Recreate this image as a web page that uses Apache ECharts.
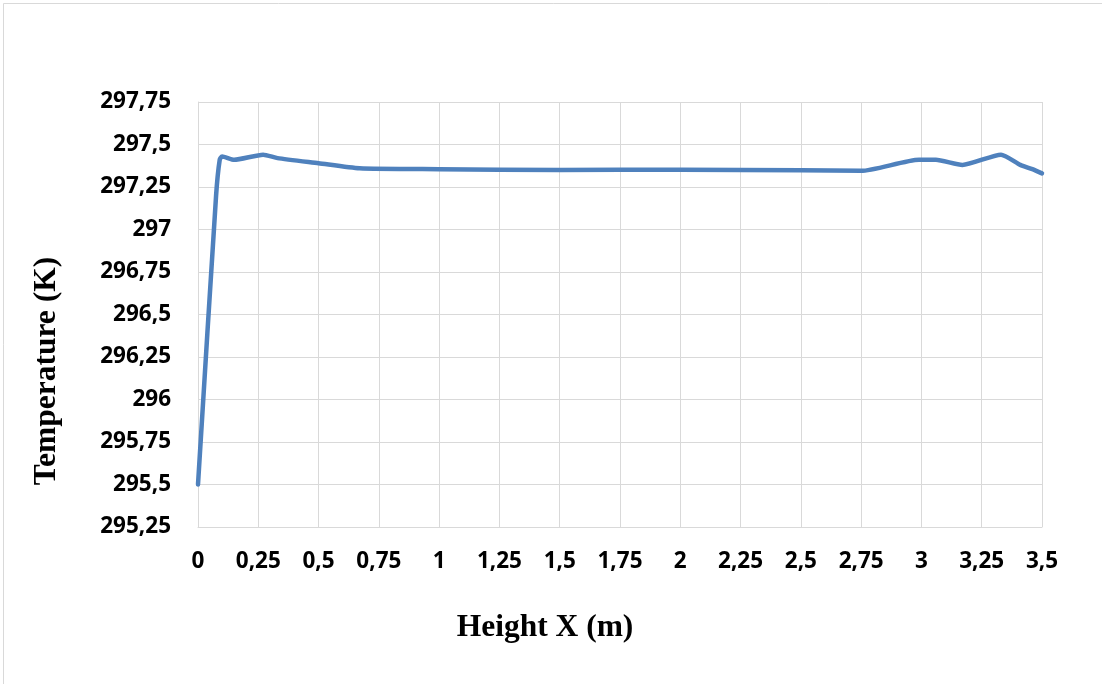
<!DOCTYPE html>
<html>
<head>
<meta charset="utf-8">
<script src="https://cdn.jsdelivr.net/npm/echarts@6/dist/echarts.min.js"></script>
<style>
html,body{margin:0;padding:0;background:#fff;}
#chart{width:1102px;height:684px;}
</style>
</head>
<body>
<div id="chart"></div>
<script>
// Data
const heightX = [0, 0.075, 0.09, 0.1, 0.15, 0.27, 0.33, 0.5, 0.67, 1.0, 1.5, 2.0, 2.5, 2.75, 2.99, 3.06, 3.17, 3.33, 3.41, 3.46, 3.5];
const temperature = [295.5, 297.2, 297.41, 297.43, 297.41, 297.44, 297.42, 297.39, 297.36, 297.355, 297.35, 297.352, 297.348, 297.345, 297.41, 297.41, 297.38, 297.44, 297.38, 297.355, 297.33];
const xTitle = 'Height X (m)';
const yTitle = 'Temperature (K)';

const seriesData = heightX.map((x, i) => [x, temperature[i]]);
const fmt = v => String(v).replace('.', ',');

const chart = echarts.init(document.getElementById('chart'), null, {renderer: 'canvas'});
chart.setOption({
  animation: false,
  backgroundColor: '#ffffff',
  grid: {left: 198, right: 60, top: 102, bottom: 157, containLabel: false},
  xAxis: {
    type: 'value', min: 0, max: 3.5, interval: 0.25,
    axisLine: {show: true, lineStyle: {color: '#d9d9d9', width: 1}},
    axisTick: {show: false},
    splitLine: {show: true, lineStyle: {color: '#d9d9d9', width: 1}},
    axisLabel: {formatter: fmt, color: '#000', fontFamily: 'Open Sans', fontWeight: 'bold', fontSize: 22.5, margin: 23}
  },
  yAxis: {
    type: 'value', min: 295.25, max: 297.75, interval: 0.25,
    axisLine: {show: true, lineStyle: {color: '#d9d9d9', width: 1}},
    axisTick: {show: false},
    splitLine: {show: true, lineStyle: {color: '#d9d9d9', width: 1}},
    axisLabel: {formatter: fmt, color: '#000', fontFamily: 'Open Sans', fontWeight: 'bold', fontSize: 22.5, margin: 27}
  },
  series: [{
    type: 'line',
    data: seriesData,
    showSymbol: false,
    smooth: 0.2,
    lineStyle: {color: '#4f81bd', width: 4.5, cap: 'round', join: 'round'},
    itemStyle: {color: '#4f81bd'}
  }],
  graphic: [
    {type: 'rect', shape: {x: 3.5, y: 3.5, width: 1300, height: 1300}, style: {fill: 'none', stroke: '#d9d9d9', lineWidth: 1}, silent: true},
    {type: 'text', x: 545, y: 628, style: {text: xTitle, font: 'bold 31.5px "Liberation Serif"', fill: '#000', align: 'center', verticalAlign: 'middle'}},
    {type: 'text', x: 47, y: 371, rotation: Math.PI / 2, style: {text: yTitle, font: 'bold 31.5px "Liberation Serif"', fill: '#000', align: 'center', verticalAlign: 'middle'}}
  ]
});
</script>
</body>
</html>
